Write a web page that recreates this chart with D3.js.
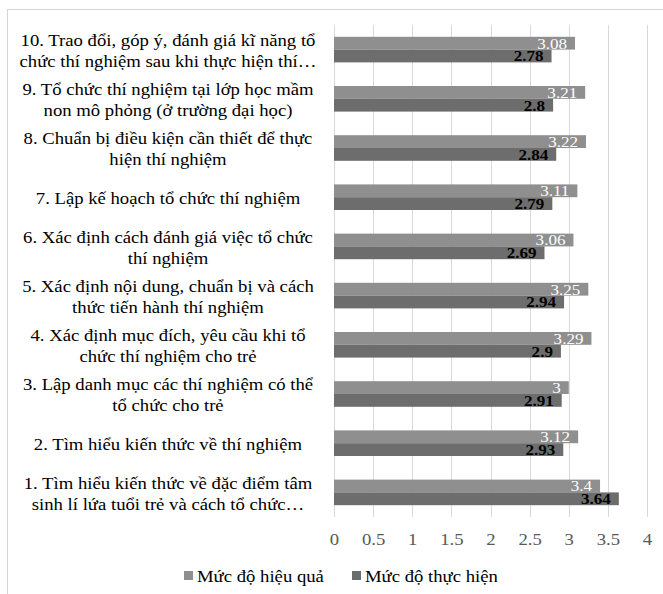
<!DOCTYPE html>
<html>
<head>
<meta charset="utf-8">
<script src="https://cdn.jsdelivr.net/npm/d3@7"></script>
<style>
  body { margin: 0; background: #fff; }
</style>
</head>
<body>
<div id="chart"></div>
<script>
const categories = [
    "1. Tìm hiểu kiến thức về đặc điểm tâm\nsinh lí lứa tuổi trẻ và cách tổ chức…",
    "2. Tìm hiểu kiến thức về thí nghiệm",
    "3. Lập danh mục các thí nghiệm có thể\ntổ chức cho trẻ",
    "4. Xác định mục đích, yêu cầu khi tổ\nchức thí nghiệm cho trẻ",
    "5. Xác định nội dung, chuẩn bị và cách\nthức tiến hành thí nghiệm",
    "6. Xác định cách đánh giá việc tổ chức\nthí nghiệm",
    "7. Lập kế hoạch tổ chức thí nghiệm",
    "8. Chuẩn bị điều kiện cần thiết để thực\nhiện thí nghiệm",
    "9. Tổ chức thí nghiệm tại lớp học mầm\nnon mô phỏng (ở trường đại học)",
    "10. Trao đổi, góp ý, đánh giá kĩ năng tổ\nchức thí nghiệm sau khi thực hiện thí…"
];
const hieuQua = [3.4, 3.12, 3, 3.29, 3.25, 3.06, 3.11, 3.22, 3.21, 3.08];
const thucHien = [3.64, 2.93, 2.91, 2.9, 2.94, 2.69, 2.79, 2.84, 2.8, 2.78];
const seriesNames = ["Mức độ hiệu quả", "Mức độ thực hiện"];
const xTicks = [0, 0.5, 1, 1.5, 2, 2.5, 3, 3.5, 4];

const svgWidth = 663;
const svgHeight = 594;
const margin = { top: 25, right: 15, bottom: 77, left: 334 };
const width = svgWidth - margin.left - margin.right;
const height = svgHeight - margin.top - margin.bottom;

const FONT = "'Liberation Serif', 'Times New Roman', serif";
const STRETCH = 1.1; // the text in the picture is a little wider than plain Times
const colors = ["#8f8f8f", "#6d6d6d"];

const svg = d3.select("#chart")
    .append("svg")
    .attr("width", svgWidth)
    .attr("height", svgHeight)
    .style("font-family", FONT);

// outer frame
svg.append("rect")
    .attr("x", 7.5)
    .attr("y", 9.5)
    .attr("width", 700)
    .attr("height", 700)
    .attr("fill", "none")
    .attr("stroke", "#d4d4d4");

const chartGroup = svg.append("g")
    .attr("transform", `translate(${margin.left}, ${margin.top})`);

const data = categories.map((c, i) => ({ label: c, values: [hieuQua[i], thucHien[i]] }));

// category 10 at top
const y0 = d3.scaleBand()
    .domain(categories.slice().reverse())
    .range([0, height])
    .paddingInner(0.48)
    .paddingOuter(0.24);

const y1 = d3.scaleBand()
    .domain([0, 1])
    .range([0, y0.bandwidth()]);

const x = d3.scaleLinear()
    .domain([0, 4])
    .range([0, width - 1]);

// gridlines
chartGroup.append("g")
    .selectAll("line")
    .data(xTicks)
    .enter()
    .append("line")
    .attr("x1", d => Math.round(x(d)) + 0.5)
    .attr("x2", d => Math.round(x(d)) + 0.5)
    .attr("y1", 0)
    .attr("y2", height)
    .attr("stroke", "#d9d9d9")
    .attr("stroke-width", 1);

// x axis labels
const bottomAxis = d3.axisBottom(x)
    .tickValues(xTicks)
    .tickFormat(d3.format("~g"))
    .tickSize(0)
    .tickPadding(16);

const xAxis = chartGroup.append("g")
    .attr("transform", `translate(0, ${height})`)
    .call(bottomAxis)
    .attr("font-family", null)
    .attr("font-size", null);
xAxis.select(".domain").remove();
xAxis.selectAll(".tick text")
    .attr("fill", "#595959")
    .attr("transform", `scale(${STRETCH},1)`)
    .style("font-size", "17px");

// bars
const groups = chartGroup.selectAll(".cat")
    .data(data)
    .enter()
    .append("g")
    .attr("class", "cat")
    .attr("transform", d => `translate(0, ${y0(d.label)})`);

groups.selectAll("rect")
    .data(d => d.values.map((v, k) => ({ k: k, v: v })))
    .enter()
    .append("rect")
    .attr("x", 0)
    .attr("y", d => y1(d.k))
    .attr("width", d => x(d.v))
    .attr("height", y1.bandwidth())
    .attr("fill", d => colors[d.k]);

groups.selectAll(".val")
    .data(d => d.values.map((v, k) => ({ k: k, v: v })))
    .enter()
    .append("text")
    .attr("class", "val")
    .attr("transform", d => `translate(${x(d.v) - 8}, ${y1(d.k) + y1.bandwidth() / 2}) scale(${STRETCH},1)`)
    .attr("dy", "0.35em")
    .attr("text-anchor", "end")
    .attr("fill", d => d.k === 0 ? "#ffffff" : "#000000")
    .attr("font-weight", d => d.k === 0 ? "normal" : "bold")
    .style("font-size", "15.5px")
    .text(d => d.v);

// category labels
const labelX = 168;
const catLabels = svg.append("g")
    .selectAll("text")
    .data(data)
    .enter()
    .append("text")
    .attr("text-anchor", "middle")
    .attr("fill", "#000")
    .style("font-size", "17px")
    .attr("transform", d => `translate(${labelX}, ${margin.top + y0(d.label) + y0.bandwidth() / 2}) scale(${STRETCH},1)`);

catLabels.each(function(d) {
    const lines = d.label.split("\n");
    const t = d3.select(this);
    lines.forEach((ln, i) => {
        t.append("tspan")
            .attr("x", 0)
            .attr("y", (i - (lines.length - 1) / 2) * 21 + 1)
            .attr("dy", "0.35em")
            .text(ln);
    });
});

// legend
const legend = svg.append("g")
    .attr("transform", `translate(0, 576)`);

const legendX = [184, 352];
seriesNames.forEach((name, i) => {
    legend.append("rect")
        .attr("x", legendX[i])
        .attr("y", -5)
        .attr("width", 9)
        .attr("height", 9)
        .attr("fill", colors[i]);
    legend.append("text")
        .attr("transform", `translate(${legendX[i] + 13}, 0) scale(${STRETCH},1)`)
        .attr("dy", "0.35em")
        .attr("fill", "#000")
        .style("font-size", "17px")
        .text(name);
});
</script>
</body>
</html>
